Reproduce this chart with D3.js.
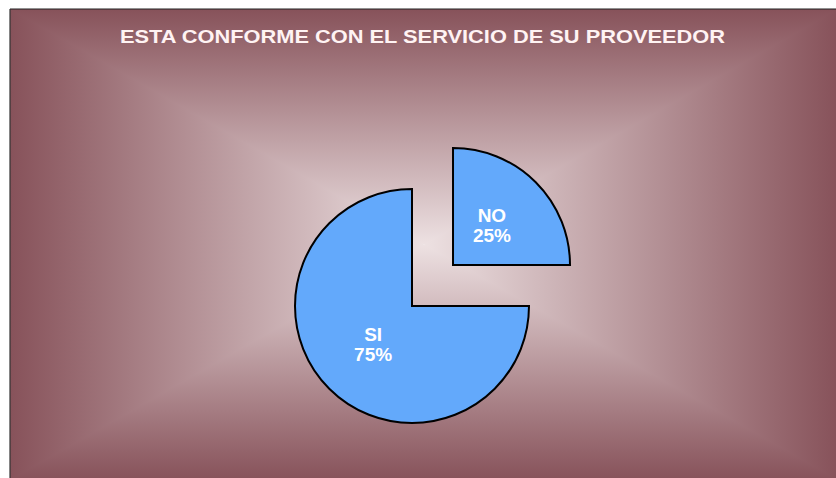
<!DOCTYPE html>
<html>
<head>
<meta charset="utf-8">
<script src="https://cdn.jsdelivr.net/npm/d3@7"></script>
<style>
  body { margin: 0; background: #fff; }
  svg { display: block; }
</style>
</head>
<body>
<svg id="chart" width="836" height="478"></svg>
<script>
// data
const categories = ['NO', 'SI']
const values = [25, 75]
const title = 'ESTA CONFORME CON EL SERVICIO DE SU PROVEEDOR'

const svg = d3.select('#chart')
const W = 836, H = 478
// chart box (clipped on right / bottom like the original)
const box = {x0: 10, y0: 9, x1: 838, y1: 480}
const cx = (box.x0 + box.x1) / 2
const cy = (box.y0 + box.y1) / 2

const edgeCol = '#87525a'
const midCol = '#ede1e2'

// rectangular "from centre" gradient: top/bottom halves, then left/right triangles on top
const defs = svg.append('defs')
function grad (id, x1, y1, x2, y2) {
  let g = defs.append('linearGradient')
    .attr('id', id)
    .attr('gradientUnits', 'userSpaceOnUse')
    .attr('x1', x1).attr('y1', y1).attr('x2', x2).attr('y2', y2)
  g.append('stop').attr('offset', 0).attr('stop-color', edgeCol)
  g.append('stop').attr('offset', 1).attr('stop-color', midCol)
}
grad('gTop', cx, box.y0, cx, cy)
grad('gBot', cx, box.y1, cx, cy)
grad('gLeft', box.x0, cy, cx, cy)
grad('gRight', box.x1, cy, cx, cy)

const bg = svg.append('g').attr('class', 'background')
bg.append('rect')
  .attr('x', box.x0).attr('y', box.y0)
  .attr('width', box.x1 - box.x0).attr('height', cy - box.y0)
  .attr('fill', 'url(#gTop)')
bg.append('rect')
  .attr('x', box.x0).attr('y', cy)
  .attr('width', box.x1 - box.x0).attr('height', box.y1 - cy)
  .attr('fill', 'url(#gBot)')

const tris = [
  {id: 'gLeft', pts: [[box.x0, box.y0], [box.x0, box.y1], [cx, cy]]},
  {id: 'gRight', pts: [[box.x1, box.y0], [box.x1, box.y1], [cx, cy]]}
]
bg.selectAll('polygon')
  .data(tris)
  .enter().append('polygon')
    .attr('points', d => d.pts.map(p => p.join(',')).join(' '))
    .attr('fill', d => 'url(#' + d.id + ')')

// border
svg.append('line')
  .attr('x1', box.x0).attr('y1', box.y0).attr('x2', W).attr('y2', box.y0)
  .attr('stroke', '#222').attr('stroke-width', 1.2)
svg.append('line')
  .attr('x1', box.x0).attr('y1', box.y0).attr('x2', box.x0).attr('y2', H)
  .attr('stroke', '#333').attr('stroke-width', 1.2)

// title
svg.append('text')
  .attr('x', 422.5)
  .attr('y', 43)
  .attr('text-anchor', 'middle')
  .attr('font-family', 'Liberation Sans, Arial, sans-serif')
  .attr('font-weight', 'bold')
  .attr('font-size', 19)
  .attr('fill', '#fff3f3')
  .attr('textLength', 605)
  .attr('lengthAdjust', 'spacingAndGlyphs')
  .text(title)

// pie
const pieX = 412, pieY = 306
const radius = 117
const explode = {NO: 58, SI: 0}

const pie = d3.pie().sort(null).value(d => d)
const arcs = pie(values)
const arc = d3.arc().innerRadius(0).outerRadius(radius)
const labelArc = d3.arc().innerRadius(55).outerRadius(55)

const chart = svg.append('g')
  .attr('transform', 'translate(' + pieX + ',' + pieY + ')')

function shift (d, i) {
  let a = (d.startAngle + d.endAngle) / 2
  let e = explode[categories[i]]
  return [Math.sin(a) * e, -Math.cos(a) * e]
}

const slice = chart.selectAll('.slice')
  .data(arcs)
  .enter().append('g')
    .attr('class', 'slice')
    .attr('transform', (d, i) => 'translate(' + shift(d, i).join(',') + ')')

slice.append('path')
  .attr('d', arc)
  .attr('fill', '#63a9fb')
  .attr('stroke', '#000')
  .attr('stroke-width', 2)
  .attr('stroke-linejoin', 'miter')

const lbl = slice.append('text')
  .attr('transform', d => 'translate(' + labelArc.centroid(d).join(',') + ')')
  .attr('text-anchor', 'middle')
  .attr('font-family', 'Liberation Sans, Arial, sans-serif')
  .attr('font-weight', 'bold')
  .attr('font-size', 19)
  .attr('fill', '#fff')

lbl.append('tspan')
  .attr('x', 0).attr('y', -4)
  .text((d, i) => categories[i])
lbl.append('tspan')
  .attr('x', 0).attr('y', 16)
  .text((d, i) => Math.round(d.data / d3.sum(values) * 100) + '%')
</script>
</body>
</html>
